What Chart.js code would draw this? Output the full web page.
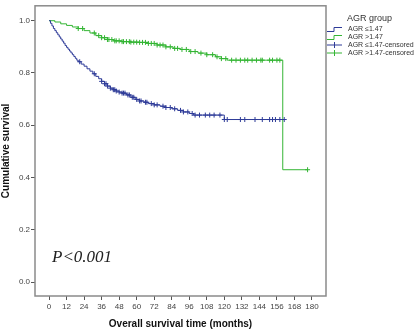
<!DOCTYPE html>
<html>
<head>
<meta charset="utf-8">
<style>
  html, body { margin: 0; padding: 0; background: #fff; }
</style>
</head>
<body>
<canvas id="km" width="420" height="330"></canvas>
<script src="https://cdn.jsdelivr.net/npm/chart.js"></script>
<script>
    // Kaplan-Meier steps (months, cumulative survival)
    const lowTime = [0, 1, 2, 3, 4, 5, 6, 7, 8, 9, 10, 11, 12, 13, 14, 15, 16, 17, 18, 19, 20, 22, 24, 26, 28, 30, 32, 34, 36, 38, 40, 42, 44, 46, 48, 50, 53, 56, 59, 62, 65, 68, 72, 76, 80, 84, 88, 92, 96, 99, 120, 161];
    const lowSurv = [1.0, 0.99, 0.98, 0.97, 0.962, 0.954, 0.946, 0.938, 0.93, 0.922, 0.914, 0.905, 0.898, 0.891, 0.884, 0.877, 0.87, 0.863, 0.856, 0.849, 0.843, 0.834, 0.826, 0.816, 0.807, 0.797, 0.787, 0.778, 0.768, 0.759, 0.75, 0.742, 0.736, 0.731, 0.727, 0.723, 0.716, 0.707, 0.699, 0.693, 0.688, 0.683, 0.678, 0.673, 0.668, 0.663, 0.657, 0.651, 0.645, 0.639, 0.622, 0.622];
    const highTime = [0, 4, 8, 12, 16, 20, 24, 28, 32, 36, 40, 44, 50, 56, 62, 68, 74, 80, 85, 90, 96, 102, 108, 114, 118, 122, 160, 177];
    const highSurv = [1.0, 0.995, 0.988, 0.982, 0.976, 0.97, 0.962, 0.953, 0.943, 0.935, 0.928, 0.923, 0.92, 0.918, 0.917, 0.913, 0.907, 0.9, 0.894, 0.89, 0.882, 0.876, 0.87, 0.862, 0.855, 0.849, 0.43, 0.43];

    // censored observations (months)
    const lowCensor = [21, 31, 36, 38, 39, 40, 42, 44, 45, 46, 48, 50, 51, 52, 54, 55, 57, 58, 60, 62, 63, 66, 67, 70, 72, 74, 78, 80, 83, 86, 90, 92, 95, 98, 100, 103, 107, 110, 113, 117, 120, 122, 131, 134, 141, 146, 151, 153, 155, 158, 161];
    const highCensor = [20, 23, 31, 34, 36, 38, 40, 41, 43, 45, 46, 48, 50, 51, 53, 55, 56, 58, 60, 62, 64, 66, 68, 70, 72, 74, 76, 78, 80, 83, 86, 88, 91, 94, 97, 100, 104, 108, 112, 115, 118, 121, 125, 128, 131, 134, 136, 139, 142, 145, 146, 151, 153, 156, 158, 177];

    const xTicks = [0, 12, 24, 36, 48, 60, 72, 84, 96, 108, 120, 132, 144, 156, 168, 180];
    const yTicks = [0, 0.2, 0.4, 0.6, 0.8, 1.0];
    const legendLabels = ['AGR \u22641.47', 'AGR >1.47', 'AGR \u22641.47-censored', 'AGR >1.47-censored'];

    const BLUE = '#2e3b98';
    const GREEN = '#34b534';

    const survAt = (times, surv, t) => {
        let s = surv[0];
        for (let i = 0; i < times.length; i++) {
            if (times[i] <= t) s = surv[i];
        }
        return s;
    };
    const toPts = (times, surv) => times.map((t, i) => ({ x: t, y: surv[i] }));
    const censorPts = (cens, times, surv) => cens.map(t => ({ x: t, y: survAt(times, surv, t) }));

    const frameAndLegend = {
        id: 'frameAndLegend',
        afterDraw(chart) {
            const ctx = chart.ctx;
            const a = chart.chartArea;
            ctx.save();
            ctx.strokeStyle = '#8a8a8a';
            ctx.lineWidth = 1.5;
            ctx.strokeRect(a.left, a.top, a.right - a.left, a.bottom - a.top);

            // P value
            ctx.fillStyle = '#222';
            ctx.font = 'italic 17px "Liberation Serif"';
            ctx.textBaseline = 'alphabetic';
            ctx.fillText('P<0.001', 52, 262);

            // legend
            ctx.font = '9px "Liberation Sans"';
            ctx.fillStyle = '#333';
            ctx.fillText('AGR group', 347, 21);
            const rows = [29, 37, 45, 53];
            const cols = [BLUE, GREEN, BLUE, GREEN];
            ctx.font = '7px "Liberation Sans"';
            rows.forEach((y, i) => {
                ctx.strokeStyle = cols[i];
                ctx.lineWidth = 1;
                ctx.beginPath();
                if (i < 2) {
                    ctx.moveTo(327, y + 2.5);
                    ctx.lineTo(334, y + 2.5);
                    ctx.lineTo(334, y - 1.5);
                    ctx.lineTo(342, y - 1.5);
                } else {
                    ctx.moveTo(327, y);
                    ctx.lineTo(342, y);
                    ctx.moveTo(334.5, y - 3);
                    ctx.lineTo(334.5, y + 3);
                }
                ctx.stroke();
                ctx.fillStyle = '#333';
                ctx.textBaseline = 'middle';
                ctx.fillText(legendLabels[i], 348, y);
            });
            ctx.restore();
        }
    };

    const ctx = document.getElementById('km').getContext('2d');
    new Chart(ctx, {
        type: 'scatter',
        data: {
            datasets: [
                { data: toPts(lowTime, lowSurv), showLine: true, stepped: true, borderColor: BLUE, borderWidth: 1, pointRadius: 0 },
                { data: toPts(highTime, highSurv), showLine: true, stepped: true, borderColor: GREEN, borderWidth: 1, pointRadius: 0 },
                { data: censorPts(lowCensor, lowTime, lowSurv), pointStyle: 'cross', pointRadius: 2.5, borderColor: BLUE, backgroundColor: BLUE, borderWidth: 1 },
                { data: censorPts(highCensor, highTime, highSurv), pointStyle: 'cross', pointRadius: 2.5, borderColor: GREEN, backgroundColor: GREEN, borderWidth: 1 }
            ]
        },
        options: {
            responsive: false,
            animation: false,
            layout: { padding: { left: 0, top: 4, right: 94, bottom: 0 } },
            plugins: { legend: { display: false }, tooltip: { enabled: false } },
            scales: {
                x: {
                    type: 'linear',
                    min: -9.6,
                    max: 189.6,
                    afterBuildTicks: s => { s.ticks = xTicks.map(v => ({ value: v })); },
                    afterFit: s => { s.height = 34; },
                    grid: { drawOnChartArea: false, drawTicks: true, tickLength: 4, color: '#555', lineWidth: 1 },
                    border: { display: false },
                    ticks: { font: { family: 'Liberation Sans', size: 8 }, color: '#444', padding: 2, maxRotation: 0, autoSkip: false },
                    title: { display: true, text: 'Overall survival time (months)', font: { family: 'Liberation Sans', size: 10, weight: 'bold' }, color: '#111', padding: { top: 3, bottom: 0 } }
                },
                y: {
                    min: -0.053,
                    max: 1.057,
                    afterBuildTicks: s => { s.ticks = yTicks.map(v => ({ value: v })); },
                    afterFit: s => { s.width = 35; },
                    grid: { drawOnChartArea: false, drawTicks: true, tickLength: 4, color: '#555', lineWidth: 1 },
                    border: { display: false },
                    ticks: { font: { family: 'Liberation Sans', size: 8 }, color: '#444', padding: 1, callback: v => v.toFixed(1) },
                    title: { display: true, text: 'Cumulative survival', font: { family: 'Liberation Sans', size: 10, weight: 'bold' }, color: '#111', padding: 0 }
                }
            }
        },
        plugins: [frameAndLegend]
    });
</script>
</body>
</html>
